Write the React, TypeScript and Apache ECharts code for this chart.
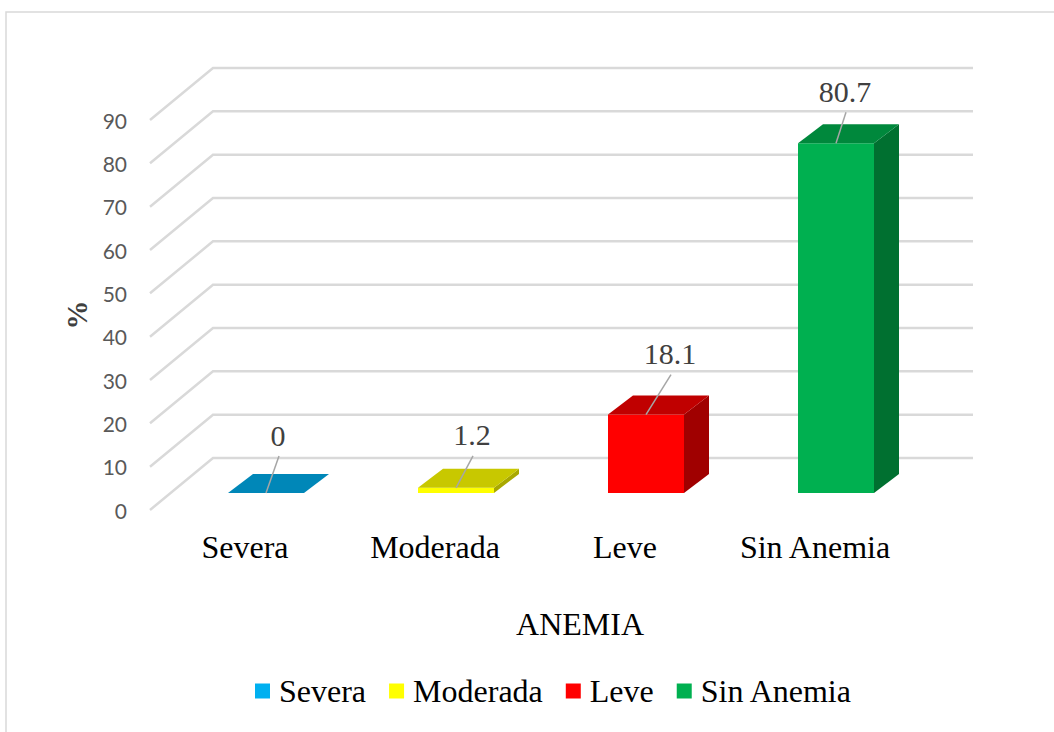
import React, { useEffect, useRef } from "react";
import * as echarts from "echarts";

const categories = ["Severa", "Moderada", "Leve", "Sin Anemia"];
const values = [0, 1.2, 18.1, 80.7];
const yTicks = [0, 10, 20, 30, 40, 50, 60, 70, 80, 90];
const axisTitleX = "ANEMIA";
const axisTitleY = "%";

const legendColors = ["#00B0F0", "#FFFF00", "#FF0000", "#00B050"];
const frontColors = ["#00B0F0", "#FFFF00", "#FF0000", "#00B050"];
const topColors = ["#0087B8", "#C8C800", "#C00000", "#00883C"];
const sideColors = ["#006F98", "#A8A800", "#A00000", "#007030"];
const labelNudge = [
  [12, -58],
  [16, -53],
  [24, -61],
  [9, -52],
];

const WALL = [63, -52];
const BAR_SHIFT = [21, -17];
const BAR_DEPTH = [25, -19];
const SERIF = "'Liberation Serif', 'Times New Roman', serif";
const SANS = "Lato, 'Liberation Sans', sans-serif";

export default function App() {
  const ref = useRef<HTMLDivElement>(null);

  useEffect(() => {
    if (!ref.current) return;
    const chart = echarts.init(ref.current, undefined, { renderer: "svg" });

    const gridSeries: any = {
      type: "custom",
      name: "grid",
      silent: true,
      z: 1,
      encode: { x: 0, y: 1 },
      data: yTicks.map((v) => [0, v]),
      renderItem: (params: any, api: any) => {
        const cs = params.coordSys;
        const y = api.coord([0, api.value(1)])[1];
        return {
          type: "polyline",
          shape: {
            points: [
              [cs.x, y],
              [cs.x + WALL[0], y + WALL[1]],
              [cs.x + cs.width + WALL[0], y + WALL[1]],
            ],
          },
          style: { stroke: "#d9d9d9", lineWidth: 2.5, fill: null },
        };
      },
    };

    const barSeries = categories.map((name, i) => ({
      type: "custom",
      name,
      z: 2,
      silent: true,
      itemStyle: { color: legendColors[i] },
      encode: { x: 0, y: 1 },
      data: [[i, values[i]]],
      renderItem: (params: any, api: any) => {
        const val = api.value(1);
        const base = api.coord([i, 0]);
        const top = api.coord([i, val]);
        const w = api.size([1, 0])[0] * 0.4;
        const fx = base[0] + BAR_SHIFT[0] - w / 2;
        const bottom = base[1] + BAR_SHIFT[1];
        const ty = top[1] + BAR_SHIFT[1];
        const [dx, dy] = BAR_DEPTH;
        const cx = fx + w / 2;
        const lx = cx + labelNudge[i][0];
        const ly = ty + labelNudge[i][1];
        const children: any[] = [
          {
            type: "polygon",
            shape: {
              points: [
                [fx + w, ty],
                [fx + w + dx, ty + dy],
                [fx + w + dx, bottom + dy],
                [fx + w, bottom],
              ],
            },
            style: { fill: sideColors[i] },
          },
          {
            type: "rect",
            shape: { x: fx, y: ty, width: w, height: bottom - ty },
            style: { fill: frontColors[i] },
          },
          {
            type: "polygon",
            shape: {
              points: [
                [fx, ty],
                [fx + w, ty],
                [fx + w + dx, ty + dy],
                [fx + dx, ty + dy],
              ],
            },
            style: { fill: topColors[i] },
          },
          {
            type: "line",
            shape: { x1: cx, y1: ty, x2: lx + 1, y2: ly + 21 },
            style: { stroke: "#a6a6a6", lineWidth: 1.5 },
          },
          {
            type: "text",
            x: lx,
            y: ly,
            style: {
              text: String(val),
              fontSize: 30,
              fontFamily: SERIF,
              fill: "#404040",
              align: "center",
              verticalAlign: "middle",
            },
          },
        ];
        return { type: "group", children };
      },
    }));

    chart.setOption({
      animation: false,
      backgroundColor: "#ffffff",
      graphic: [
        {
          type: "rect",
          z: -10,
          silent: true,
          shape: { x: 6, y: 12, width: 1100, height: 800 },
          style: { fill: "none", stroke: "#d9d9d9", lineWidth: 1.5 },
        },
      ],
      grid: { left: 150, right: 144, top: 120, bottom: 222 },
      xAxis: {
        type: "category",
        data: categories,
        axisLine: { show: false },
        axisTick: { show: false },
        splitLine: { show: false },
        axisLabel: {
          interval: 0,
          hideOverlap: false,
          margin: 21,
          fontSize: 32,
          fontFamily: SERIF,
          color: "#000000",
        },
        name: axisTitleX,
        nameLocation: "middle",
        nameGap: 98,
        nameTextStyle: {
          fontSize: 32,
          fontFamily: SERIF,
          color: "#000000",
          padding: [0, 0, 0, 100],
        },
      },
      yAxis: {
        type: "value",
        min: 0,
        max: 90,
        interval: 10,
        axisLine: { show: false },
        axisTick: { show: false },
        splitLine: { show: false },
        axisLabel: {
          margin: 23,
          fontSize: 21,
          fontFamily: SANS,
          color: "#595959",
        },
        name: axisTitleY,
        nameLocation: "middle",
        nameGap: 58,
        nameTextStyle: {
          fontSize: 29,
          fontWeight: "bold",
          fontFamily: SERIF,
          color: "#404040",
        },
      },
      legend: {
        data: categories,
        left: 250,
        top: 670,
        icon: "rect",
        itemWidth: 15,
        itemHeight: 15,
        itemGap: 23,
        selectedMode: false,
        textStyle: {
          fontSize: 32,
          fontFamily: SERIF,
          color: "#000000",
          padding: [0, 0, 0, 4],
        },
      },
      series: [gridSeries, ...barSeries],
    });

    return () => chart.dispose();
  }, []);

  return (
    <div
      ref={ref}
      style={{ position: "absolute", left: 0, top: 0, width: 1054, height: 732 }}
    />
  );
}
